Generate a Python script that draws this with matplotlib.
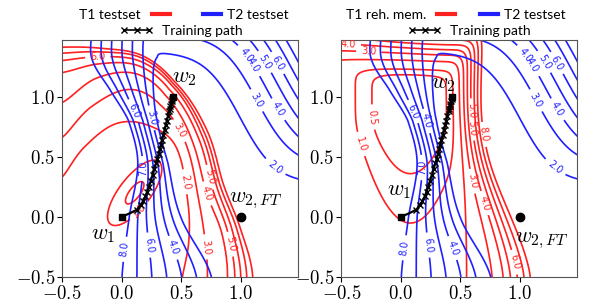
import numpy as np
import matplotlib
matplotlib.use('Agg')
import matplotlib.pyplot as plt
from matplotlib.lines import Line2D
from matplotlib.ticker import FuncFormatter

plt.rcParams['mathtext.fontset'] = 'cm'

# ---------------- data ----------------
levels = [0.5, 1, 2, 3, 4, 5, 6, 7, 8]
ticks = [-0.5, 0.0, 0.5, 1.0]

path_x = [0.0, 0.07, 0.13, 0.16, 0.18, 0.20, 0.215, 0.23, 0.245, 0.26, 0.275, 0.29, 0.30, 0.31,
          0.32, 0.33, 0.34, 0.35, 0.36, 0.37, 0.38, 0.39, 0.40, 0.405, 0.41, 0.415, 0.42, 0.425, 0.43]
path_y = [0.0, 0.03, 0.06, 0.10, 0.13, 0.17, 0.21, 0.25, 0.30, 0.35, 0.40, 0.45, 0.48, 0.52,
          0.56, 0.60, 0.64, 0.68, 0.72, 0.76, 0.80, 0.84, 0.88, 0.90, 0.92, 0.94, 0.96, 0.98, 1.0]
w1_pt = (0.0, 0.0)
w2_pt = (0.43, 1.0)
w2ft_pt = (1.0, 0.0)

# T1 testset (left): radius of each contour level seen from the lower-left corner
t1_center = (-0.5, -0.5)
t1_angles = [0, 15, 30, 45, 60, 70, 80, 90]
t1_levels = [2, 3, 4, 5, 6, 7, 8]
t1_radii = [
    [1.01, 1.10, 1.22, 1.36, 1.44, 1.36, 1.10, 0.83],
    [1.22, 1.24, 1.32, 1.48, 1.65, 1.66, 1.44, 1.16],
    [1.39, 1.39, 1.40, 1.55, 1.74, 1.80, 1.68, 1.45],
    [1.45, 1.44, 1.46, 1.62, 1.80, 1.87, 1.80, 1.70],
    [1.50, 1.48, 1.50, 1.66, 1.84, 1.91, 1.86, 1.80],
    [1.55, 1.52, 1.53, 1.69, 1.86, 1.94, 1.90, 1.86],
    [1.60, 1.55, 1.56, 1.72, 1.88, 1.96, 1.93, 1.91],
]
t1_basin = (0.11, 0.2, 52.0, 0.33, 0.13)

# T1 rehearsal memory (right): right wall and top wall level positions
t1r_wall_levels = [2, 3, 4, 5, 6, 7, 8]
t1r_right_y = [-0.5, 0.6, 1.5]
t1r_right_x = [
    [0.54, 0.79, 0.87, 0.92, 0.98, 1.04, 1.09],
    [0.52, 0.56, 0.59, 0.62, 0.65, 0.68, 0.71],
    [0.50, 0.53, 0.56, 0.59, 0.62, 0.65, 0.68],
]
t1r_top_x = [-0.5, 0.0, 0.4]
t1r_top_y = [
    [1.31, 1.39, 1.44, 1.49, 1.54, 1.59, 1.64],
    [1.31, 1.37, 1.41, 1.45, 1.49, 1.53, 1.57],
    [1.30, 1.35, 1.39, 1.43, 1.47, 1.51, 1.55],
]
t1r_below2_right = 0.06
t1r_below2_top = 0.08
t1r_bowl = (0.08, 0.45, 0.95, -0.06, 1.22)

# T2 testset: left wall, level-2 position and per-level spacing against height
t2_wall_y = [-0.5, 0.0, 0.45, 0.8, 1.05, 1.3, 1.5]
t2_wall_x = [0.76, 0.50, 0.39, 0.30, 0.27, 0.27, 0.27]
t2_wall_step = [0.125, 0.072, 0.042, 0.040, 0.060, 0.085, 0.087]
# right wall: sigmoid-shaped level-2 curve, shifted per level
t2_sig = (0.97, 0.80, 0.55, 0.30)
t2_offset_unit = 0.16
t2_offset_power = 1.57

# contour-label spots
lab_t2_left = [(0.10, 0.88), (0.24, 0.82), (0.17, 0.40), (0.03, -0.27), (0.27, -0.23), (0.45, -0.25),
               (1.05, 1.35), (1.10, 1.27), (1.22, 1.30), (1.31, 1.28), (1.10, 0.95), (1.29, 0.88),
               (1.26, 0.38)]
lab_t2_right = [(0.09, 0.87), (0.23, 0.80), (0.19, 0.41), (0.05, -0.26), (0.27, -0.23), (0.46, -0.25),
                (1.05, 1.35), (1.10, 1.27), (1.22, 1.30), (1.31, 1.28), (1.10, 0.95), (1.29, 0.88),
                (1.26, 0.37)]
lab_t1_left = [(0.18, 0.02), (-0.2, 1.34), (0.52, 0.29), (0.74, 0.33), (0.68, 0.18), (0.70, -0.25),
               (0.90, -0.23), (0.51, 0.73)]
lab_t1_right = [(-0.44, 1.44), (-0.27, 1.38), (-0.23, 0.83), (-0.32, 0.61), (0.57, 0.29), (0.72, 0.12),
                (0.98, -0.37), (0.60, 0.88), (0.61, 0.74), (0.73, 0.69)]


# ---------------- helpers ----------------
def cr_interp(xq, xk, yk):
    xk = list(xk); yk = list(yk)
    n = len(xk)
    xs, ys = [], []
    for i in range(n - 1):
        p0 = yk[max(i - 1, 0)]
        p3 = yk[min(i + 2, n - 1)]
        p1, p2 = yk[i], yk[i + 1]
        t = np.linspace(0, 1, 40, endpoint=False)
        v = 0.5 * ((2 * p1) + (-p0 + p2) * t + (2 * p0 - 5 * p1 + 4 * p2 - p3) * t ** 2
                   + (-p0 + 3 * p1 - 3 * p2 + p3) * t ** 3)
        xs.append(xk[i] + (xk[i + 1] - xk[i]) * t)
        ys.append(v)
    xs.append([xk[-1]]); ys.append([yk[-1]])
    return np.interp(xq, np.concatenate(xs), np.concatenate(ys))


def pw_level(q, knots, lvls, below_gap):
    lv = np.array(lvls, float)
    F = lv[0] - (knots[0] - q) / below_gap
    for k in range(len(lv) - 1):
        Fk = lv[k] + (q - knots[k]) / (knots[k + 1] - knots[k]) * (lv[k + 1] - lv[k])
        F = np.where(q >= knots[k], Fk, F)
    return F


def radial_field(X, Y, center, angles, lvls, radii):
    dx = X - center[0]
    dy = Y - center[1]
    r = np.hypot(dx, dy)
    th = np.clip(np.degrees(np.arctan2(dy, dx)), angles[0], angles[-1])
    R = np.array([cr_interp(th, angles, row) for row in radii])
    return pw_level(r, R, lvls, (R[1] - R[0]) / (lvls[1] - lvls[0]))


def blur(F, sig):
    n = int(3 * sig)
    k = np.exp(-0.5 * (np.arange(-n, n + 1) / sig) ** 2)
    k /= k.sum()
    G = np.apply_along_axis(lambda a: np.convolve(a, k, mode='same'), 0, F)
    G = np.apply_along_axis(lambda a: np.convolve(a, k, mode='same'), 1, G)
    return G


# ---------------- grids ----------------
NG = 320
step = 2.0 / (NG - 1)
gx = -0.5 + step * np.arange(NG)
X, Y = np.meshgrid(gx, gx)
PAD = 40
ge = -0.5 + step * np.arange(-PAD, NG + PAD)
XE, YE = np.meshgrid(ge, ge)

# T1 left
cx, cy, ang, sa, sb = t1_basin
ca, sn = np.cos(np.radians(ang)), np.sin(np.radians(ang))
u = (X - cx) * ca + (Y - cy) * sn
v = -(X - cx) * sn + (Y - cy) * ca
e = (u / sa) ** 2 + (v / sb) ** 2
T1_in = 1.9 - 0.9 * np.exp(-(e - 1) * 0.5)
T1_out = radial_field(X, Y, t1_center, t1_angles, t1_levels, t1_radii)
T1 = T1_in + np.maximum(T1_out - 1.9, 0)

# T1 rehearsal memory right
RX = np.array([cr_interp(YE, t1r_right_y, [row[k] for row in t1r_right_x])
               for k in range(len(t1r_wall_levels))])
TY = np.array([cr_interp(XE, t1r_top_x, [row[k] for row in t1r_top_y])
               for k in range(len(t1r_wall_levels))])
W_R = pw_level(XE, RX, t1r_wall_levels, t1r_below2_right)
W_T = pw_level(YE, TY, t1r_wall_levels, t1r_below2_top)
bx, bw, bg, by, brise = t1r_bowl
hq = 0.05 * np.logaddexp(0, (1 - brise * (YE - by)) / 0.05)
qb = bg * ((XE - bx) / bw) ** 2 + hq
Bb = 1.9 * (1 - np.exp(-1.42 * np.maximum(qb, 0) ** 1.29 / 1.9))
T1R = blur(np.maximum(np.maximum(W_R, W_T), Bb), 8)[PAD:-PAD, PAD:-PAD]

# T2 (both panels)
x2 = cr_interp(Y, t2_wall_y, t2_wall_x)
wst = cr_interp(Y, t2_wall_y, t2_wall_step)
Lp = (x2 - X) / wst
sx0, sy0, sA, sW = t2_sig
lo = np.full(X.shape, -4.0)
hi = np.full(X.shape, 4.0)
for _ in range(50):
    mid = 0.5 * (lo + hi)
    Fm = Y - mid - sy0 + sA * np.tanh((X - mid - sx0) / sW)
    lo = np.where(Fm > 0, mid, lo)
    hi = np.where(Fm > 0, hi, mid)
sh = 0.5 * (lo + hi)
Rp = np.sign(sh) * (np.abs(sh) / t2_offset_unit) ** t2_offset_power
tau = 0.25
T2 = 2 + tau * np.logaddexp(Lp / tau, Rp / tau) - tau * np.log(2) * 0.3
T2 = np.maximum(T2, 1.5)

# ---------------- figure ----------------
fig = plt.figure(figsize=(5.98, 3.03), dpi=100)
ax1 = fig.add_axes([62 / 598, 26 / 303, 236 / 598, 237 / 303])
ax2 = fig.add_axes([341.3 / 598, 26 / 303, 236 / 598, 237 / 303])

RED = '#ff2020'
BLUE = '#2020ff'
fmt_tick = FuncFormatter(lambda val, pos: r'$%.1f$' % val)


def draw_panel(ax, T1field, lab_red, lab_blue):
    ax.set_xlim(-0.5, 1.48)
    ax.set_ylim(-0.5, 1.47)
    cs1 = ax.contour(X, Y, T1field, levels=levels, colors=RED, linewidths=1.2)
    cs2 = ax.contour(X, Y, T2, levels=levels, colors=BLUE, linewidths=1.2)
    ax.clabel(cs1, fmt='%.1f', fontsize=7, inline=True, manual=lab_red)
    ax.clabel(cs2, fmt='%.1f', fontsize=7, inline=True, manual=lab_blue)
    ax.plot(path_x, path_y, color='black', lw=1.6, marker='x', ms=4, mew=1.0,
            markevery=list(range(2, len(path_x))), zorder=5)
    ax.plot([w1_pt[0]], [w1_pt[1]], 's', color='black', ms=5, zorder=6)
    ax.plot([w2_pt[0]], [w2_pt[1]], 's', color='black', ms=5, zorder=6)
    ax.plot([w2ft_pt[0]], [w2ft_pt[1]], 'o', color='black', ms=6, zorder=6)
    ax.set_xlim(-0.5, 1.48)
    ax.set_ylim(-0.5, 1.47)
    ax.set_xticks(ticks)
    ax.set_yticks(ticks)
    ax.xaxis.set_major_formatter(fmt_tick)
    ax.yaxis.set_major_formatter(fmt_tick)
    ax.tick_params(labelsize=13.5, length=3.5, pad=1.5)
    for sp in ax.spines.values():
        sp.set_color('#555555')


draw_panel(ax1, T1, lab_t1_left, lab_t2_left)
draw_panel(ax2, T1R, lab_t1_right, lab_t2_right)

ax1.text(0.42, 1.12, r'$w_2$', fontsize=16, ha='left', va='baseline')
ax1.text(-0.26, -0.19, r'$w_1$', fontsize=16, ha='left', va='baseline')
ax1.text(0.90, 0.12, r'$w_{2,FT}$', fontsize=16, ha='left', va='baseline')
ax2.text(0.25, 1.07, r'$w_2$', fontsize=16, ha='left', va='baseline')
ax2.text(-0.12, 0.18, r'$w_1$', fontsize=16, ha='left', va='baseline')
ax2.text(0.96, -0.21, r'$w_{2,FT}$', fontsize=16, ha='left', va='baseline')

LEG_FONT = {'family': 'Lato', 'size': 10}


def add_legends(ax, t1_label, r_anchor, b_anchor, p_anchor):
    h_red = Line2D([], [], color=RED, lw=3)
    h_blue = Line2D([], [], color=BLUE, lw=3)
    h_path = Line2D([], [], color='black', lw=1.2, marker='x', ms=4, mew=1.0)
    common = dict(frameon=False, borderpad=0, borderaxespad=0, prop=LEG_FONT)
    l1 = ax.legend([h_red], [t1_label], loc='center right', bbox_to_anchor=r_anchor,
                   markerfirst=False, handlelength=1.3, handletextpad=0.8, **common)
    ax.add_artist(l1)
    l2 = ax.legend([h_blue], ['T2 testset'], loc='center left', bbox_to_anchor=b_anchor,
                   handlelength=1.3, handletextpad=0.4, **common)
    ax.add_artist(l2)
    ax.legend([h_path], ['Training path'], loc='center left', bbox_to_anchor=p_anchor,
              handlelength=2.4, handletextpad=0.6, numpoints=3, **common)


add_legends(ax1, 'T1 testset', (0.458, 1.105), (0.597, 1.105), (0.246, 1.038))
add_legends(ax2, 'T1 reh. mem.', (0.482, 1.105), (0.588, 1.105), (0.282, 1.038))

fig.savefig('out.png', dpi=100)
